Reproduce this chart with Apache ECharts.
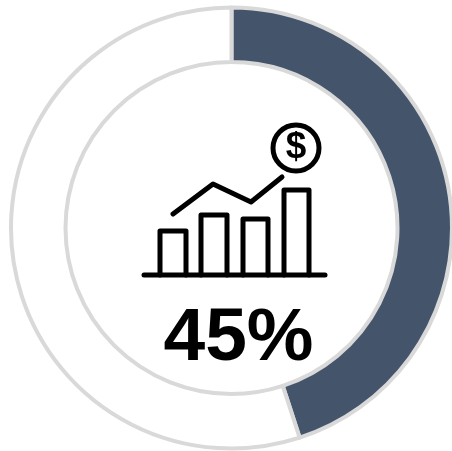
<!DOCTYPE html>
<html>
<head>
<meta charset="utf-8">
<style>
  html, body { margin: 0; padding: 0; background: #fff; }
  #chart { width: 452px; height: 451px; }
</style>
<script src="https://cdn.jsdelivr.net/npm/echarts@6/dist/echarts.min.js"></script>
</head>
<body>
<div id="chart"></div>
<script>
const categories = ["Achieved", "Remaining"];
const values = [45, 55];
const centerLabel = "45%";

const ink = "#000";
const iconStroke = { stroke: ink, fill: "none", lineWidth: 5, lineCap: "round", lineJoin: "round" };

// Icon in the middle of the ring
function bar(x1, x2, top) {
  return {
    type: "polyline",
    shape: { points: [[x1, 275], [x1, top], [x2, top], [x2, 275]] },
    style: iconStroke,
  };
}

const myChart = echarts.init(document.getElementById("chart"), null, { renderer: "canvas" });

myChart.setOption({
  animation: false,
  backgroundColor: "#fff",
  series: [
    {
      type: "pie",
      center: [231.5, 228],
      radius: [166, 220.5],
      startAngle: 90,
      clockwise: true,
      silent: true,
      label: { show: false },
      labelLine: { show: false },
      itemStyle: { borderColor: "#d9d9d9", borderWidth: 4 },
      data: [
        { name: categories[0], value: values[0], itemStyle: { color: "#44546a" } },
        { name: categories[1], value: values[1], itemStyle: { color: "#fff" } },
      ],
    },
  ],
  graphic: [
    bar(160, 186, 231),
    bar(201, 227, 215),
    bar(243, 268, 219),
    bar(284, 309, 190),
    {
      type: "line",
      shape: { x1: 144, y1: 275, x2: 325, y2: 275 },
      style: iconStroke,
    },
    {
      type: "polyline",
      shape: { points: [[173, 214], [213, 184], [251, 202], [282, 177]] },
      style: iconStroke,
    },
    {
      type: "circle",
      shape: { cx: 296, cy: 148, r: 23 },
      style: iconStroke,
    },
    {
      type: "text",
      style: {
        text: "$",
        x: 296,
        y: 148,
        align: "center",
        verticalAlign: "middle",
        fill: ink,
        font: "bold 37px 'Liberation Sans'",
      },
    },
    {
      type: "text",
      style: {
        text: centerLabel,
        x: 238.5,
        y: 339,
        align: "center",
        verticalAlign: "middle",
        fill: ink,
        font: "bold 75px 'Liberation Sans'",
      },
    },
  ],
});

window.addEventListener("resize", () => {
  myChart.resize();
});
</script>
</body>
</html>
